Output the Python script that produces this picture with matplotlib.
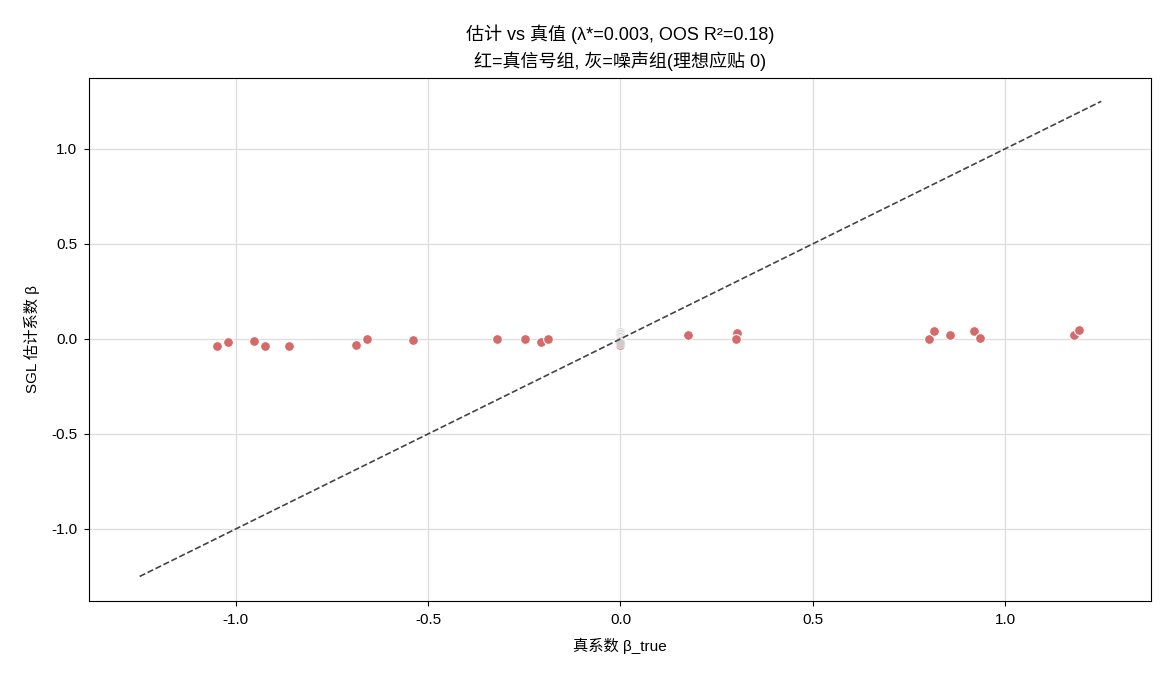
import matplotlib
matplotlib.use("Agg")
import matplotlib.pyplot as plt
import numpy as np

plt.rcParams['font.family'] = ['Liberation Sans', 'Noto Sans CJK SC', 'DejaVu Sans']
plt.rcParams['axes.unicode_minus'] = False

signal_true = [-1.049, -1.020, -0.953, -0.925, -0.862, -0.688, -0.658, -0.539,
               -0.320, -0.247, -0.207, -0.189, 0.0, 0.175, 0.304, 0.300,
               0.803, 0.814, 0.856, 0.919, 0.935, 1.180, 1.192]
signal_est = [-0.040, -0.016, -0.009, -0.035, -0.038, -0.033, 0.000, -0.007,
              0.000, 0.000, -0.019, 0.000, -0.030, 0.019, 0.033, 0.000,
              0.000, 0.040, 0.018, 0.042, 0.004, 0.023, 0.049]
noise_true = [0.0, 0.0, 0.0, 0.0, 0.0, 0.0, 0.0, 0.0]
noise_est = [0.035, 0.025, 0.015, 0.008, 0.0, -0.005, -0.012, -0.020]
line_ends = [-1.25, 1.25]

fig, ax = plt.subplots(figsize=(11.7, 6.76), dpi=100)
ax.scatter(signal_true, signal_est, s=50, color='#d46a6a', edgecolor='white',
           linewidth=0.8, zorder=3)
ax.scatter(noise_true, noise_est, s=50, color='#cccccc', edgecolor='white',
           linewidth=0.8, alpha=0.7, zorder=4)
ax.plot(line_ends, line_ends, '--', color='#444444', linewidth=1.2, zorder=5)
ax.grid(True, color='#dddddd', linewidth=0.9)
ax.set_axisbelow(True)
ax.set_xticks([-1.0, -0.5, 0.0, 0.5, 1.0])
ax.set_yticks([-1.0, -0.5, 0.0, 0.5, 1.0])
ax.set_xlim(-1.382, 1.380)
ax.set_ylim(-1.379, 1.374)
ax.tick_params(labelsize=11, pad=5)
ax.set_xlabel('真系数 β_true', fontsize=11, labelpad=8)
ax.set_ylabel('SGL 估计系数 β', fontsize=11, labelpad=8)
ax.set_title('估计 vs 真值 (λ*=0.003, OOS R²=0.18)\n红=真信号组, 灰=噪声组(理想应贴 0)',
             fontsize=13, linespacing=1.45, pad=8)
fig.subplots_adjust(left=0.076, right=0.984, top=0.885, bottom=0.111)
fig.savefig('out.png', dpi=100)
